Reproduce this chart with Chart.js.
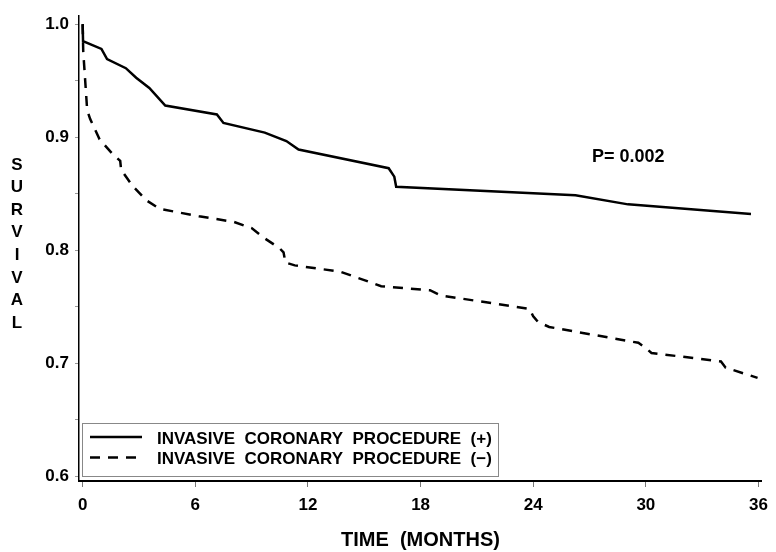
<!DOCTYPE html>
<html>
<head>
<meta charset="utf-8">
<script src="https://cdn.jsdelivr.net/npm/chart.js@4/dist/chart.umd.min.js"></script>
<style>
    body { margin: 0; background: #fff; }
    canvas { display: block; }
</style>
</head>
<body>
<canvas id="kmChart" width="776" height="552"></canvas>
<script>
const FONT = "'Liberation Sans', Arial, Helvetica, sans-serif";

// curva con procedura invasiva (+)
const mesiPos = [0, 0.02, 1.0, 1.3, 2.3, 2.85, 3.55, 4.4, 7.15, 7.5, 9.7, 10.85, 11.5, 16.3, 16.6, 16.7, 26.25, 29.05, 35.6];
const survPos = [1.0, 0.985, 0.978, 0.969, 0.961, 0.9525, 0.9435, 0.928, 0.920, 0.9125, 0.904, 0.8965, 0.889, 0.8725, 0.865, 0.856, 0.8485, 0.8405, 0.832];

// curva senza procedura invasiva (-)
const mesiNeg = [0, 0.03, 0.24, 0.4, 0.9, 1.6, 2.0, 2.05, 2.65, 3.4, 4.1, 6.2, 8.05, 9.0, 9.6, 10.5, 10.7, 10.8, 11.3, 13.7, 15.0, 15.9, 18.5, 19.05, 22.0, 23.8, 24.0, 24.25, 24.85, 29.6, 29.95, 30.3, 34.0, 34.25, 35.95];
const survNeg = [1.0, 0.976, 0.924, 0.916, 0.898, 0.885, 0.879, 0.871, 0.857, 0.844, 0.8365, 0.830, 0.825, 0.8195, 0.8115, 0.8015, 0.798, 0.789, 0.7865, 0.781, 0.7735, 0.768, 0.7645, 0.760, 0.7525, 0.748, 0.7415, 0.7365, 0.732, 0.718, 0.714, 0.709, 0.7015, 0.696, 0.687];

const etichette = ["INVASIVE  CORONARY  PROCEDURE  (+)", "INVASIVE  CORONARY  PROCEDURE  (\u2212)"];

const tickX = [0, 6, 12, 18, 24, 30, 36];
const tickY = [0.6, 0.65, 0.7, 0.75, 0.8, 0.85, 0.9, 0.95, 1.0];
const labelY = ["0.6", "", "0.7", "", "0.8", "", "0.9", "", "1.0"];

const titoloY = "SURVIVAL";
const titoloX = "TIME  (MONTHS)";
const pValore = "P= 0.002";

const punti = (xs, ys) => xs.map((x, i) => ({ x: x, y: ys[i] }));

// legenda dentro il grafico, titolo verticale e valore P
const extraPlugin = {
    id: "extra",
    afterDraw(chart) {
        const c = chart.ctx;
        c.save();

        // lettere di SURVIVAL una sotto l'altra
        c.fillStyle = "#000";
        c.font = "bold 17px " + FONT;
        c.textAlign = "center";
        c.textBaseline = "middle";
        titoloY.split("").forEach((ch, i) => {
            c.fillText(ch, 17, 165 + i * 22.6);
        });

        // P value
        c.font = "bold 18px " + FONT;
        c.textAlign = "left";
        c.fillText(pValore, 592, 157);

        // legenda
        const lx = chart.chartArea.left + 3;
        const ly = 423;
        c.fillStyle = "#fff";
        c.fillRect(lx, ly, 416, 53);
        c.strokeStyle = "#888";
        c.lineWidth = 1;
        c.strokeRect(lx + 0.5, ly + 0.5, 416, 53);

        c.font = "bold 17px " + FONT;
        c.fillStyle = "#000";
        chart.data.datasets.forEach((ds, i) => {
            const yy = ly + 14 + i * 20.5;
            c.beginPath();
            c.setLineDash(ds.borderDash || []);
            c.lineWidth = ds.borderWidth;
            c.strokeStyle = ds.borderColor;
            c.moveTo(lx + 8, yy);
            c.lineTo(lx + 60, yy);
            c.stroke();
            c.setLineDash([]);
            c.fillText(ds.label, lx + 75, yy + 2);
        });

        c.restore();
    }
};

const chart = new Chart(document.getElementById("kmChart").getContext("2d"),
    {
        type: "line",
        data:
        {
            datasets:
                [
                    {
                        label: etichette[0],
                        data: punti(mesiPos, survPos),
                        borderColor: "#000",
                        borderWidth: 2.5,
                        pointRadius: 0,
                        tension: 0
                    },
                    {
                        label: etichette[1],
                        data: punti(mesiNeg, survNeg),
                        borderColor: "#000",
                        borderWidth: 2.5,
                        borderDash: [10, 8],
                        pointRadius: 0,
                        tension: 0
                    }
                ]
        },
        options:
        {
            responsive: false,
            animation: false,
            devicePixelRatio: 1,
            layout: { padding: { top: 8, right: 8, left: 0, bottom: 0 } },
            plugins:
            {
                legend: { display: false },
                tooltip: { enabled: false }
            },
            scales:
            {
                x:
                {
                    type: "linear",
                    min: -0.195,
                    max: 36.18,
                    afterFit: s => { s.height = 71; },
                    afterBuildTicks: s => { s.ticks = tickX.map(v => ({ value: v })); },
                    grid: { drawOnChartArea: false, drawTicks: true, tickLength: 6, color: "#777", lineWidth: 1 },
                    border: { display: true, color: "#000", width: 2 },
                    ticks:
                    {
                        color: "#000",
                        padding: 8,
                        maxRotation: 0,
                        font: { family: FONT, size: 17, weight: "bold" },
                        callback: v => String(v)
                    },
                    title:
                    {
                        display: true,
                        text: titoloX,
                        color: "#000",
                        padding: 0,
                        font: { family: FONT, size: 20, weight: "bold" }
                    }
                },
                y:
                {
                    min: 0.5957,
                    max: 1.007,
                    afterFit: s => { s.width = 79; },
                    afterBuildTicks: s => { s.ticks = tickY.map(v => ({ value: v })); },
                    grid: { drawOnChartArea: false, drawTicks: true, tickLength: 4, color: "#999", lineWidth: 1 },
                    border: { display: true, color: "#000", width: 1.5 },
                    ticks:
                    {
                        color: "#000",
                        padding: 6,
                        font: { family: FONT, size: 17, weight: "bold" },
                        callback: (v, i) => labelY[i]
                    }
                }
            }
        },
        plugins: [extraPlugin]
    });
</script>
</body>
</html>
